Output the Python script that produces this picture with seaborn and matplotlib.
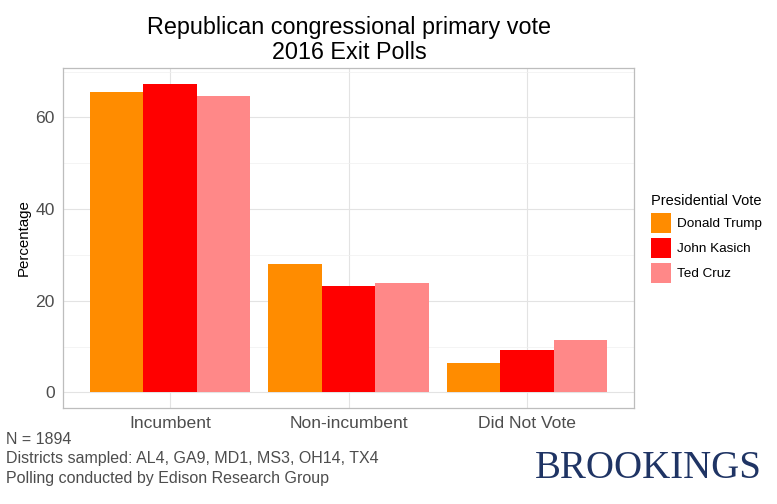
import matplotlib
matplotlib.use("Agg")
import matplotlib.pyplot as plt
import seaborn as sns
import pandas as pd
from matplotlib.ticker import MultipleLocator

categories = ["Incumbent", "Non-incumbent", "Did Not Vote"]
candidates = ["Donald Trump", "John Kasich", "Ted Cruz"]
trump = [65.5, 28.0, 6.4]
kasich = [67.4, 23.2, 9.2]
cruz = [64.6, 23.9, 11.4]
colors = ["#FF8C00", "#FF0000", "#FF8888"]

rows = []
for cand, vals in zip(candidates, [trump, kasich, cruz]):
    for cat, v in zip(categories, vals):
        rows.append({"Category": cat, "Presidential Vote": cand, "Percentage": v})
df = pd.DataFrame(rows)

sns.set_style("white")
plt.rcParams['font.family'] = ['Liberation Sans', 'DejaVu Sans']
plt.rcParams['text.color'] = 'black'

fig = plt.figure(figsize=(7.77, 5.04), dpi=100)
ax = fig.add_axes([63/777, 1-408/504, (634-63)/777, (408-68)/504])
sns.barplot(data=df, x="Category", y="Percentage", hue="Presidential Vote",
            palette=colors, order=categories, hue_order=candidates,
            width=0.9, saturation=1, ax=ax, edgecolor="none", linewidth=0, zorder=3)

ax.set_ylim(-3.4, 70.8)
ax.set_xlim(-0.6, 2.6)
ax.yaxis.set_major_locator(MultipleLocator(20))
ax.yaxis.set_minor_locator(MultipleLocator(10))
ax.grid(True, which="major", color="#E3E3E3", linewidth=0.8, zorder=0)
ax.grid(True, which="minor", axis="y", color="#F0F0F0", linewidth=0.5, zorder=0)
ax.set_axisbelow(True)
for s in ax.spines.values():
    s.set_color("#BDBDBD")
    s.set_linewidth(0.9)
ax.tick_params(axis="both", which="major", length=3, color="#444444",
               labelsize=12.6, labelcolor="#4D4D4D", pad=3)
ax.tick_params(axis="both", which="minor", length=0)
ax.set_xlabel("")
ax.set_ylabel("Percentage", fontsize=10.8, color="black", labelpad=3)

fig.text(349/777, 1-40/504, "Republican congressional primary vote\n2016 Exit Polls",
         ha="center", va="center", fontsize=16.8, linespacing=1.12, color="black")

leg = ax.legend(title="Presidential Vote", loc="upper left",
                bbox_to_anchor=(651/777, 1-194/504), bbox_transform=fig.transFigure,
                frameon=False, fontsize=9.7, title_fontsize=10.5,
                handlelength=1.5, handleheight=1.85, handletextpad=0.45,
                labelspacing=0.4, borderaxespad=0, borderpad=0)
leg._legend_box.align = "left"
leg.get_title().set_color("black")
for t in leg.get_texts():
    t.set_color("black")

fig.text(6/777, 1-440/504, "N = 1894", fontsize=11.5, color="#4D4D4D", va="center")
fig.text(6/777, 1-459/504, "Districts sampled: AL4, GA9, MD1, MS3, OH14, TX4",
         fontsize=11.5, color="#4D4D4D", va="center")
fig.text(6/777, 1-478/504, "Polling conducted by Edison Research Group",
         fontsize=11.5, color="#4D4D4D", va="center")
fig.text(762/777, 1-469/504, "BROOKINGS", fontsize=28, color="#1F3464",
         family=["Liberation Serif", "DejaVu Serif"], ha="right", va="center")

fig.savefig("out.png", dpi=100)
